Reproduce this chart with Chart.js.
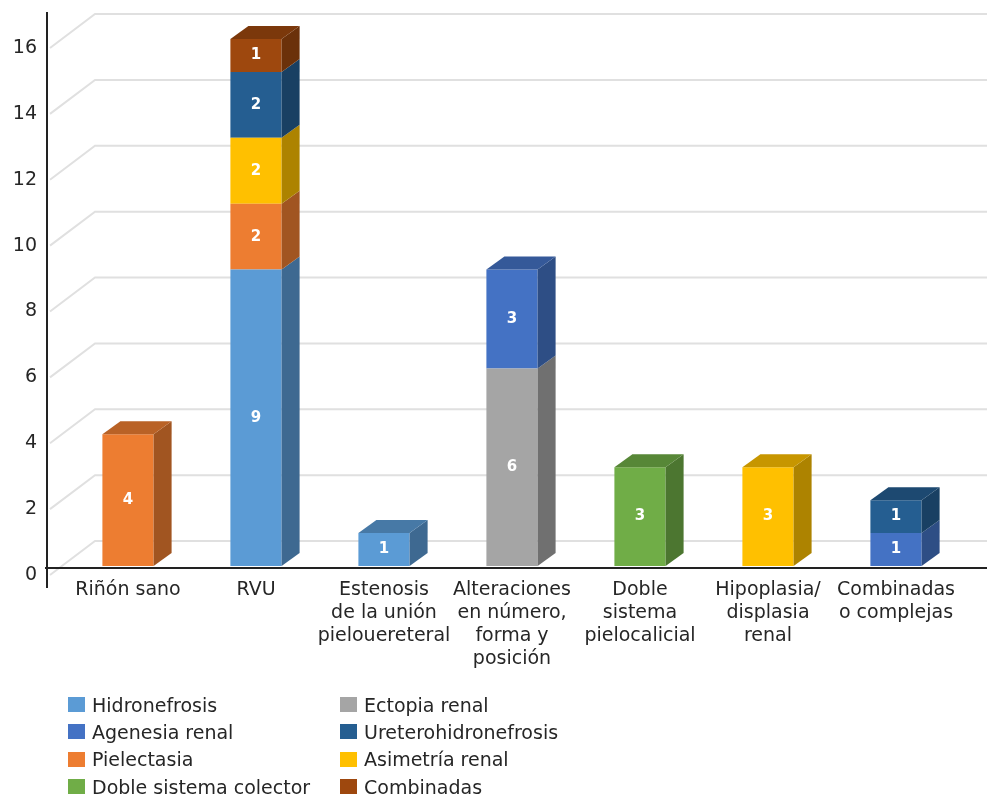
<!DOCTYPE html>
<html>
<head>
<meta charset="utf-8">
<script src="https://cdn.jsdelivr.net/npm/chart.js@4.4.1/dist/chart.umd.min.js"></script>
<style>
  body { margin: 0; background: #fff; }
  #wrap { position: relative; width: 987px; height: 805px; }
  #legend {
    position: absolute; left: 68px; top: 691px;
    display: grid; grid-template-columns: 272px 300px;
    font: 19px 'DejaVu Sans', sans-serif; color: #262626;
  }
  .item { display: flex; align-items: center; height: 27.3px; white-space: nowrap; }
  .box { width: 17px; height: 15px; margin-right: 7px; flex: none; }
</style>
</head>
<body>
<div id="wrap">
  <canvas id="myChart" width="987" height="805"></canvas>
  <div id="legend"></div>
</div>
<script>
// categories (x axis), multi-line labels
const categories = [
  ['Riñón sano'],
  ['RVU'],
  ['Estenosis', 'de la unión', 'pielouereteral'],
  ['Alteraciones', 'en número,', 'forma y', 'posición'],
  ['Doble', 'sistema', 'pielocalicial'],
  ['Hipoplasia/', 'displasia', 'renal'],
  ['Combinadas', 'o complejas']
];

// series values, one per category (null = nothing)
const hidronefrosis        = [null, 9, 1, null, null, null, null];
const ectopiaRenal         = [null, null, null, 6, null, null, null];
const agenesiaRenal        = [null, null, null, 3, null, null, 1];
const pielectasia          = [4, 2, null, null, null, null, null];
const asimetriaRenal       = [null, 2, null, null, null, 3, null];
const ureterohidronefrosis = [null, 2, null, null, null, null, 1];
const dobleSistema         = [null, null, null, null, 3, null, null];
const combinadas           = [null, 1, null, null, null, null, null];

// y axis ticks
const yTicks = [0, 2, 4, 6, 8, 10, 12, 14, 16];

// datasets in stacking order (bottom to top)
const series = [
  { label: 'Hidronefrosis', data: hidronefrosis, color: '#5B9BD5', legendPos: 0 },
  { label: 'Ectopia renal', data: ectopiaRenal, color: '#A5A5A5', legendPos: 1 },
  { label: 'Agenesia renal', data: agenesiaRenal, color: '#4472C4', legendPos: 2 },
  { label: 'Pielectasia', data: pielectasia, color: '#ED7D31', legendPos: 4 },
  { label: 'Asimetría renal', data: asimetriaRenal, color: '#FFC000', legendPos: 5 },
  { label: 'Ureterohidronefrosis', data: ureterohidronefrosis, color: '#255E91', legendPos: 3 },
  { label: 'Doble sistema colector', data: dobleSistema, color: '#70AD47', legendPos: 6 },
  { label: 'Combinadas', data: combinadas, color: '#9E480E', legendPos: 7 }
];

const FONT = "'DejaVu Sans', sans-serif";
const DX = 18, DY = 13;   // depth of the fake 3d bars

function shade(hex, f) {
  const n = parseInt(hex.slice(1), 16);
  const r = Math.round(((n >> 16) & 255) * f);
  const g = Math.round(((n >> 8) & 255) * f);
  const b = Math.round((n & 255) * f);
  return 'rgb(' + r + ',' + g + ',' + b + ')';
}

// grid drawn in perspective behind the bars
const grid3d = {
  id: 'grid3d',
  beforeDatasetsDraw(chart) {
    const ctx = chart.ctx, y = chart.scales.y;
    ctx.save();
    ctx.strokeStyle = '#e0e0e0';
    ctx.lineWidth = 2;
    yTicks.forEach(v => {
      const py = y.getPixelForValue(v);
      ctx.beginPath();
      ctx.moveTo(50, py + 9);
      ctx.lineTo(95, py - 25);
      ctx.lineTo(chart.width, py - 25);
      ctx.stroke();
    });
    ctx.restore();
  }
};

// side / top faces, value labels and axis lines
const bars3d = {
  id: 'bars3d',
  afterDatasetsDraw(chart) {
    const ctx = chart.ctx;
    ctx.save();
    chart.data.datasets.forEach((ds, di) => {
      const meta = chart.getDatasetMeta(di);
      meta.data.forEach((bar, i) => {
        const v = ds.data[i];
        if (!v) return;
        const left = bar.x - bar.width / 2, right = bar.x + bar.width / 2;
        const top = Math.min(bar.y, bar.base), bottom = Math.max(bar.y, bar.base);
        // side
        ctx.fillStyle = shade(ds.backgroundColor, 0.68);
        ctx.beginPath();
        ctx.moveTo(right, top);
        ctx.lineTo(right + DX, top - DY);
        ctx.lineTo(right + DX, bottom - DY);
        ctx.lineTo(right, bottom);
        ctx.closePath();
        ctx.fill();
        // top, only on the highest segment
        const isTop = !chart.data.datasets.some((o, oi) => oi > di && o.data[i]);
        if (isTop) {
          ctx.fillStyle = shade(ds.backgroundColor, 0.78);
          ctx.beginPath();
          ctx.moveTo(left, top);
          ctx.lineTo(left + DX, top - DY);
          ctx.lineTo(right + DX, top - DY);
          ctx.lineTo(right, top);
          ctx.closePath();
          ctx.fill();
        }
        // value label
        ctx.fillStyle = '#fff';
        ctx.font = 'bold 15px ' + FONT;
        ctx.textAlign = 'center';
        ctx.textBaseline = 'middle';
        ctx.fillText(String(v), bar.x, (top + bottom) / 2);
      });
    });
    // axis lines
    ctx.strokeStyle = '#222';
    ctx.lineWidth = 2;
    ctx.beginPath();
    ctx.moveTo(47, 12);
    ctx.lineTo(47, 588);
    ctx.moveTo(45, 568);
    ctx.lineTo(chart.width, 568);
    ctx.stroke();
    ctx.restore();
  }
};

new Chart(document.getElementById('myChart'), {
  type: 'bar',
  data: {
    labels: categories,
    datasets: series.map(s => ({
      label: s.label,
      data: s.data,
      backgroundColor: s.color,
      borderWidth: 0,
      barPercentage: 0.5,
      categoryPercentage: 0.8
    }))
  },
  options: {
    responsive: false,
    animation: false,
    layout: { padding: { top: 39, right: 27, left: 0, bottom: 0 } },
    plugins: {
      legend: { display: false },
      tooltip: { enabled: false }
    },
    scales: {
      x: {
        stacked: true,
        grid: { display: false, drawTicks: false },
        border: { display: false },
        ticks: {
          color: '#262626',
          font: { family: FONT, size: 19 },
          padding: 13,
          maxRotation: 0,
          autoSkip: false
        },
        afterFit(s) { s.height = 239; }
      },
      y: {
        stacked: true,
        min: 0,
        max: 16,
        grid: { display: false, drawTicks: false },
        border: { display: false },
        ticks: {
          stepSize: 2,
          color: '#262626',
          font: { family: FONT, size: 19 },
          padding: 27,
          labelOffset: 9
        },
        afterFit(s) { s.width = 64; }
      }
    }
  },
  plugins: [grid3d, bars3d]
});

// html legend, two columns in the original order
const legend = document.getElementById('legend');
series.slice().sort((a, b) => a.legendPos - b.legendPos).forEach(s => {
  const item = document.createElement('div');
  item.className = 'item';
  item.innerHTML = '<span class="box" style="background:' + s.color + '"></span>' + s.label;
  legend.appendChild(item);
});
</script>
</body>
</html>
